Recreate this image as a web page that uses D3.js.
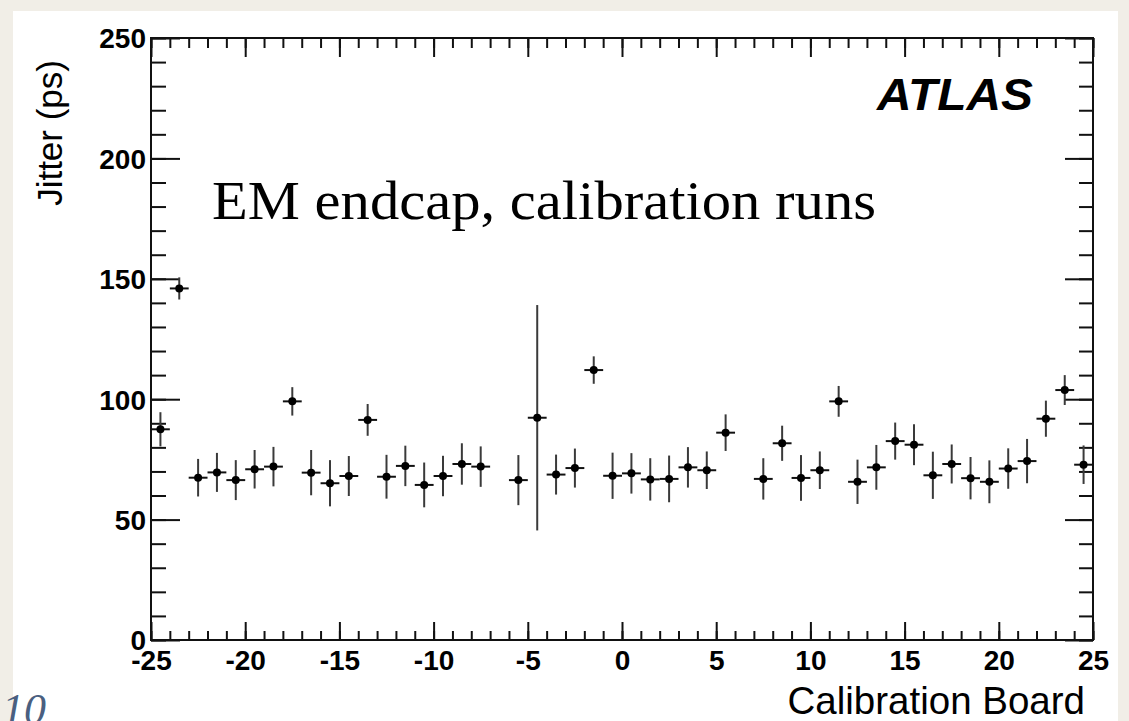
<!DOCTYPE html>
<html>
<head>
<meta charset="utf-8">
<script src="https://cdn.jsdelivr.net/npm/d3@7"></script>
<style>
  html, body { margin: 0; padding: 0; background: #f1eee7; }
  svg { display: block; }
</style>
</head>
<body>
<svg width="1129" height="721"></svg>
<script>
// bin centres of the calibration boards, -24.5 ... 24.5
var boards = d3.range(-24.5, 25, 1);

// jitter per board (ps), null = empty bin
var jitter = [87.5, 146.0, 67.4, 69.6, 66.4, 70.9, 72.0, 99.1, 69.5, 65.1,
              68.1, 91.4, 67.8, 72.3, 64.4, 68.1, 73.1, 72.0, null, 66.4,
              92.3, 68.7, 71.4, 112.1, 68.2, 69.2, 66.7, 66.9, 71.7, 70.5,
              86.1, null, 66.9, 81.7, 67.3, 70.5, 99.1, 65.7, 71.7, 82.6,
              81.1, 68.4, 73.1, 67.2, 65.7, 71.2, 74.3, 91.9, 103.8, 72.8];

// statistical error on the jitter (ps)
var jitterErr = [7.1, 4.6, 7.8, 8.1, 8.3, 8.0, 8.2, 5.9, 9.4, 9.6,
                 8.3, 6.6, 9.1, 8.4, 9.3, 8.4, 8.6, 8.4, null, 10.4,
                 46.8, 8.3, 8.1, 5.7, 9.6, 8.4, 8.8, 9.7, 8.4, 7.8,
                 7.6, null, 8.6, 7.3, 9.5, 7.8, 6.4, 9.2, 9.3, 7.7,
                 8.5, 9.8, 8.1, 8.8, 8.9, 8.4, 9.2, 7.5, 6.2, 8.0];

var xMajor = d3.range(-25, 26, 5);
var xMinor = d3.range(-25, 26, 1);
var yMajor = [0, 50, 100, 150, 200, 250];
var yMinor = d3.range(0, 251, 10);

var svg = d3.select("svg");

var x = d3.scaleLinear().domain([-25, 25]).range([151, 1093]);
var y = d3.scaleLinear().domain([0, 250]).range([640, 38]);

// plain hyphen for negatives, like ROOT
var fmt = function(d) { return String(d); };

var points = boards.map(function(b, i) {
  return {x: b, v: jitter[i], e: jitterErr[i]};
}).filter(function(d) { return d.v !== null; });

// slide panel
svg.append("rect")
  .attr("x", 13).attr("y", 11)
  .attr("width", 1105).attr("height", 720)
  .attr("fill", "#ffffff");

// ticks: ROOT style, drawn inwards on all four sides
svg.append("g")
  .attr("transform", "translate(0,640)")
  .call(d3.axisBottom(x).tickValues(xMinor).tickSize(-9).tickSizeOuter(0).tickFormat(""));
var gx2 = svg.append("g")
  .attr("transform", "translate(0,640)")
  .call(d3.axisBottom(x).tickValues(xMajor).tickSize(-18).tickSizeOuter(0)
    .tickPadding(10).tickFormat(fmt));

svg.append("g").attr("transform", "translate(0,38)")
  .call(d3.axisTop(x).tickValues(xMinor).tickSize(-10).tickSizeOuter(0).tickFormat(""));
svg.append("g").attr("transform", "translate(0,38)")
  .call(d3.axisTop(x).tickValues(xMajor).tickSize(-19).tickSizeOuter(0).tickFormat(""));

svg.append("g").attr("transform", "translate(151,0)")
  .call(d3.axisLeft(y).tickValues(yMinor).tickSize(-15).tickSizeOuter(0).tickFormat(""));
var gy2 = svg.append("g").attr("transform", "translate(151,0)")
  .call(d3.axisLeft(y).tickValues(yMajor).tickSize(-29).tickSizeOuter(0)
    .tickPadding(5).tickFormat(fmt));

svg.append("g").attr("transform", "translate(1093,0)")
  .call(d3.axisRight(y).tickValues(yMinor).tickSize(-14).tickSizeOuter(0).tickFormat(""));
svg.append("g").attr("transform", "translate(1093,0)")
  .call(d3.axisRight(y).tickValues(yMajor).tickSize(-28).tickSizeOuter(0).tickFormat(""));

svg.selectAll(".domain").remove();
svg.selectAll(".tick line")
  .attr("stroke", "#111")
  .attr("stroke-width", 2);
svg.selectAll(".tick text")
  .attr("fill", "#000")
  .style("font-family", "'Liberation Sans', Arial, sans-serif")
  .style("font-weight", "bold")
  .style("font-size", "28px");
gx2.selectAll(".tick text").attr("dy", "0.71em");
gy2.selectAll(".tick text").attr("dy", "0.35em");

// frame
svg.append("rect")
  .attr("x", 151).attr("y", 38)
  .attr("width", 942).attr("height", 602)
  .attr("fill", "none")
  .attr("stroke", "#111")
  .attr("stroke-width", 2);

// error bars and markers
var pts = svg.append("g").attr("class", "points");

pts.selectAll("line.ey")
  .data(points)
  .enter().append("line")
    .attr("class", "ey")
    .attr("x1", function(d) { return x(d.x); })
    .attr("x2", function(d) { return x(d.x); })
    .attr("y1", function(d) { return y(d.v - d.e); })
    .attr("y2", function(d) { return y(d.v + d.e); })
    .attr("stroke", "#3a3a3a")
    .attr("stroke-width", 2);

pts.selectAll("line.ex")
  .data(points)
  .enter().append("line")
    .attr("class", "ex")
    .attr("x1", function(d) { return x(d.x - 0.5); })
    .attr("x2", function(d) { return x(d.x + 0.5); })
    .attr("y1", function(d) { return y(d.v); })
    .attr("y2", function(d) { return y(d.v); })
    .attr("stroke", "#111")
    .attr("stroke-width", 2);

pts.selectAll("circle")
  .data(points)
  .enter().append("circle")
    .attr("cx", function(d) { return x(d.x); })
    .attr("cy", function(d) { return y(d.v); })
    .attr("r", 4)
    .attr("fill", "#000");

// titles
svg.append("text")
  .attr("transform", "translate(62,60) rotate(-90)")
  .attr("text-anchor", "end")
  .style("font-family", "'Liberation Sans', Arial, sans-serif")
  .style("font-size", "35px")
  .text("Jitter (ps)");

svg.append("text")
  .attr("x", 1085).attr("y", 714)
  .attr("text-anchor", "end")
  .style("font-family", "'Liberation Sans', Arial, sans-serif")
  .style("font-size", "38.5px")
  .text("Calibration Board");

svg.append("text")
  .attr("x", 212).attr("y", 219)
  .attr("textLength", 664)
  .attr("lengthAdjust", "spacingAndGlyphs")
  .style("font-family", "'Liberation Serif', 'Times New Roman', serif")
  .style("font-size", "55px")
  .text("EM endcap, calibration runs");

svg.append("text")
  .attr("x", 877).attr("y", 110)
  .attr("textLength", 156)
  .attr("lengthAdjust", "spacingAndGlyphs")
  .style("font-family", "'Liberation Sans', Arial, sans-serif")
  .style("font-weight", "bold")
  .style("font-style", "italic")
  .style("font-size", "44px")
  .text("ATLAS");

// slide number
svg.append("text")
  .attr("x", 2).attr("y", 724)
  .style("font-family", "'Liberation Serif', serif")
  .style("font-style", "italic")
  .style("font-size", "44px")
  .attr("fill", "#4a5f80")
  .text("10");
</script>
</body>
</html>
